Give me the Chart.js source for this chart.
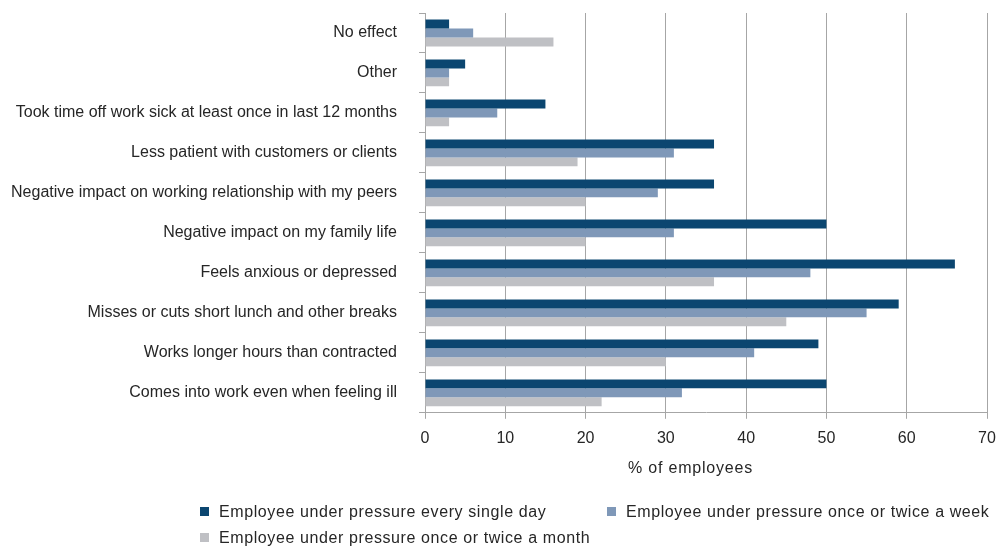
<!DOCTYPE html>
<html>
<head>
<meta charset="utf-8">
<script src="https://cdn.jsdelivr.net/npm/chart.js@4"></script>
<style>
  html, body { margin: 0; padding: 0; background: #fff; }
  #wrap { position: relative; width: 997px; height: 547px; }
  #chart { position: absolute; left: 0; top: 0; }
  .txt { position: absolute; font-family: "Liberation Sans", Arial, sans-serif; font-size: 16px; color: #262626; white-space: nowrap; line-height: 18px; }
  .sw { display: inline-block; width: 9px; height: 9px; margin-right: 10px; vertical-align: 1px; }
</style>
</head>
<body>
<div id="wrap">
  <canvas id="chart" width="997" height="547"></canvas>
  <div class="txt" id="xTitle" style="left:628px; top:459px; letter-spacing:0.8px;">% of employees</div>
  <div id="legend"></div>
</div>
<script>
// Employee pressure effects - horizontal bar chart
const categories = [
    'No effect',
    'Other',
    'Took time off work sick at least once in last 12 months',
    'Less patient with customers or clients',
    'Negative impact on working relationship with my peers',
    'Negative impact on my family life',
    'Feels anxious or depressed',
    'Misses or cuts short lunch and other breaks',
    'Works longer hours than contracted',
    'Comes into work even when feeling ill'
];
const seriesNames = [
    'Employee under pressure every single day',
    'Employee under pressure once or twice a week',
    'Employee under pressure once or twice a month'
];
const everyDay = [3, 5, 15, 36, 36, 50, 66, 59, 49, 50];
const weekly = [6, 3, 9, 31, 29, 31, 48, 55, 41, 32];
const monthly = [16, 3, 3, 19, 20, 20, 36, 45, 30, 22];
const xTicks = [0, 10, 20, 30, 40, 50, 60, 70];

const seriesColors = ['#0B4670', '#7F98B8', '#BFC0C4'];
const FONT = '"Liberation Sans", Arial, sans-serif';

const datasets = [everyDay, weekly, monthly].map((vals, i) => ({
    label: seriesNames[i],
    data: vals,
    backgroundColor: seriesColors[i],
    borderWidth: 0,
    barPercentage: 1.0,
    categoryPercentage: 0.67
}));

new Chart(document.getElementById('chart').getContext('2d'), {
    type: 'bar',
    data: { labels: categories, datasets: datasets },
    options: {
        responsive: false,
        animation: false,
        indexAxis: 'y',
        layout: { padding: { top: 13, right: 10, bottom: 89, left: 0 } },
        plugins: {
            legend: { display: false },
            tooltip: { enabled: false }
        },
        scales: {
            x: {
                min: 0,
                max: 70,
                afterBuildTicks: scale => { scale.ticks = xTicks.map(v => ({ value: v })); },
                afterFit: scale => {
                    // last tick label may hang over the right padding
                    scale.paddingLeft = 0;
                    scale.paddingRight = 0;
                },
                grid: {
                    color: '#A6A6A6',
                    lineWidth: 1,
                    drawTicks: true,
                    tickLength: 6,
                    tickColor: '#A6A6A6'
                },
                border: { color: '#A6A6A6' },
                ticks: {
                    color: '#262626',
                    font: { family: FONT, size: 16 },
                    padding: 10
                }
            },
            y: {
                afterFit: scale => {
                    scale.width = 425;
                    // keep the label padding from pushing the plot down
                    scale.paddingTop = 0;
                    scale.paddingBottom = 0;
                },
                grid: {
                    offset: true,
                    drawOnChartArea: false,
                    drawTicks: true,
                    tickLength: 6,
                    tickColor: '#A6A6A6'
                },
                border: { color: '#A6A6A6' },
                ticks: {
                    color: '#262626',
                    font: { family: FONT, size: 16 },
                    padding: 22
                }
            }
        }
    }
});

// legend laid out like the original (two columns, wraps to a second row)
const legendPos = [[200, 503], [607, 503], [200, 529]];
const legend = document.getElementById('legend');
seriesNames.forEach((name, i) => {
    const d = document.createElement('div');
    d.className = 'txt';
    d.style.left = legendPos[i][0] + 'px';
    d.style.top = legendPos[i][1] + 'px';
    d.style.letterSpacing = '0.6px';
    d.innerHTML = `<span class="sw" style="background:${seriesColors[i]}"></span>${name}`;
    legend.appendChild(d);
});
</script>
</body>
</html>
